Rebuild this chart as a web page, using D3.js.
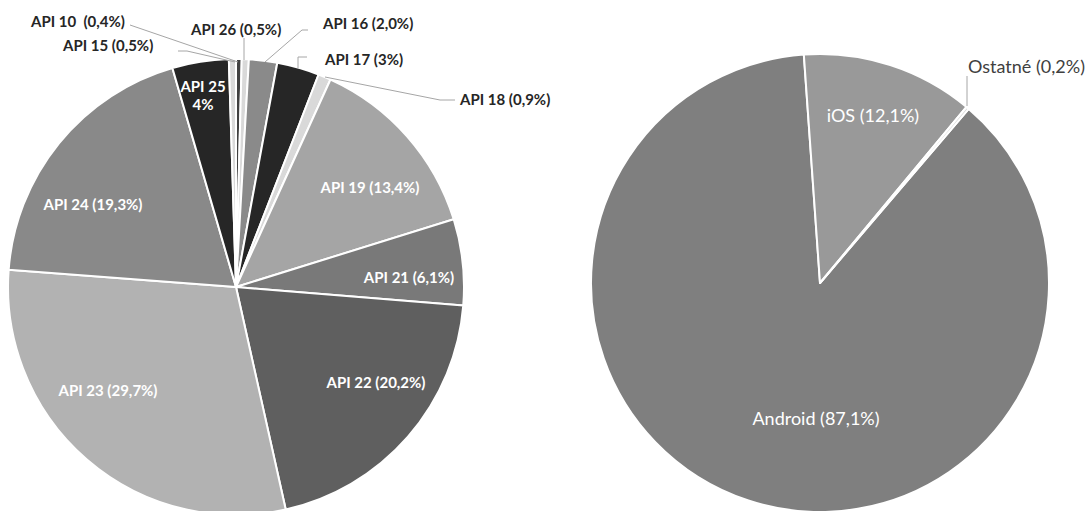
<!DOCTYPE html>
<html>
<head>
<meta charset="utf-8">
<script src="https://cdn.jsdelivr.net/npm/d3@7"></script>
<style>
  body { margin: 0; background: #fff; }
  #container { width: 1086px; height: 511px; }
  text { white-space: pre; }
</style>
</head>
<body>
<div id="container"></div>
<script>
//### DATA ###
//>>> Left pie: Android API levels (share in %)
const apiLevels = [ 'API 10', 'API 15', 'API 16', 'API 17', 'API 18', 'API 19', 'API 21', 'API 22', 'API 23', 'API 24', 'API 25', 'API 26' ];
const apiShares = [ 0.4, 0.5, 2.0, 3, 0.9, 13.4, 6.1, 20.2, 29.7, 19.3, 4, 0.5 ];
const apiLabels = [ 'API 10  (0,4%)', 'API 15 (0,5%)', 'API 16 (2,0%)', 'API 17 (3%)', 'API 18 (0,9%)', 'API 19 (13,4%)',
  'API 21 (6,1%)', 'API 22 (20,2%)', 'API 23 (29,7%)', 'API 24 (19,3%)', 'API 25\n4%', 'API 26 (0,5%)' ];

//>>> Right pie: mobile platforms (share in %)
const osNames = [ 'Android', 'iOS', 'Ostatné' ];
const osShares = [ 87.1, 12.1, 0.2 ];
const osLabels = [ 'Android (87,1%)', 'iOS (12,1%)', 'Ostatné (0,2%)' ];


//### STYLING ###
const apiColors = [ '#404040', '#d9d9d9', '#8a8a8a', '#262626', '#d9d9d9', '#a5a5a5',
  '#797979', '#5f5f5f', '#b2b2b2', '#898989', '#262626', '#d9d9d9' ];
const osColors = [ '#7f7f7f', '#999999', '#d9d9d9' ];
const leaderColor = '#a6a6a6';

//>>> Label placement (relative to pie centre), like manually placed Excel labels
//--- [ dx, dy, anchor, inside? ]
const apiLabelSpots = [
  [ -205, -266, 'start', false ], [ -173, -242, 'start', false ], [ 87, -264, 'start', false ],
  [ 89, -228, 'start', false ], [ 224, -188, 'start', false ], [ 134, -100, 'middle', true ],
  [ 173, -10, 'middle', true ], [ 140, 95, 'middle', true ], [ -128, 103, 'middle', true ],
  [ -143, -83, 'middle', true ], [ -33, -201, 'middle', true ], [ -45, -258, 'start', false ]
];
//--- leader polylines for the small slices
const apiLeaders = {
  0: [ [ -106, -262 ], [ 2, -225 ] ],
  1: [ [ -58, -236 ], [ -49, -236 ], [ -1, -225 ] ],
  2: [ [ 72, -257 ], [ 66, -257 ], [ 29, -225 ] ],
  3: [ [ 71, -230 ], [ 62, -230 ], [ 62, -219 ] ],
  4: [ [ 219, -187 ], [ 204, -187 ], [ 89, -210 ] ],
  11: [ [ 8, -249 ], [ 8, -227 ] ]
};
const osLabelSpots = [ [ -4, 135, 'middle', true ], [ 53, -168, 'middle', true ], [ 148, -217, 'start', false ] ];
const osLeaders = { 2: [ [ 147, -207 ], [ 147, -177 ] ] };


//### CREATE THE VISUALIZATION ###
const svg = d3.select( '#container' )
  .append( 'svg' )
  .attr( 'width', 1086 )
  .attr( 'height', 511 );

function drawPie ( opts ) {
  const g = svg.append( 'g' )
    .attr( 'transform', `translate( ${opts.cx}, ${opts.cy} )` );

  //_____ SLICES _____
  const pie = d3.pie()
    .sort( null )
    .value( d => d )
    .startAngle( opts.start )
    .endAngle( opts.start + 2 * Math.PI );

  const arc = d3.arc()
    .innerRadius( 0 )
    .outerRadius( opts.r );

  g.selectAll( 'path' )
    .data( pie( opts.values ) )
    .enter().append( 'path' )
    .attr( 'd', arc )
    .attr( 'fill', ( d, i ) => opts.colors[ i ] )
    .attr( 'stroke', '#fff' )
    .attr( 'stroke-width', 2 )
    .attr( 'stroke-linejoin', 'round' );

  //_____ LEADER LINES _____
  const line = d3.line();
  Object.values( opts.leaders ).forEach( pts => {
    g.append( 'path' )
      .attr( 'd', line( pts ) )
      .attr( 'fill', 'none' )
      .attr( 'stroke', leaderColor )
      .attr( 'stroke-width', 1 );
  } );

  //_____ LABELS _____
  opts.labels.forEach( ( label, i ) => {
    const [ dx, dy, anchor, inside ] = opts.spots[ i ];
    const text = g.append( 'text' )
      .attr( 'x', dx )
      .attr( 'y', dy )
      .attr( 'text-anchor', anchor )
      .attr( 'dominant-baseline', 'central' )
      .style( 'font-family', 'Lato, "Open Sans", sans-serif' )
      .style( 'font-size', opts.fontSize )
      .style( 'font-weight', opts.bold ? 'bold' : 'normal' )
      .style( 'fill', inside ? '#fff' : opts.outsideColor );
    //--- multi-line labels (API 25)
    label.split( '\n' ).forEach( ( t, j ) => {
      text.append( 'tspan' )
        .attr( 'x', dx )
        .attr( 'dy', j === 0 ? 0 : 18 )
        .text( t );
    } );
  } );
}

//>>> Left: API levels
drawPie( {
  cx: 236, cy: 287, r: 228, start: 0,
  values: apiShares, colors: apiColors, labels: apiLabels,
  spots: apiLabelSpots, leaders: apiLeaders,
  fontSize: '15px', bold: true, outsideColor: '#262626'
} );

//>>> Right: platforms
drawPie( {
  cx: 820, cy: 283, r: 229, start: 40.5 * Math.PI / 180,
  values: osShares, colors: osColors, labels: osLabels,
  spots: osLabelSpots, leaders: osLeaders,
  fontSize: '18px', bold: false, outsideColor: '#404040'
} );
</script>
</body>
</html>
